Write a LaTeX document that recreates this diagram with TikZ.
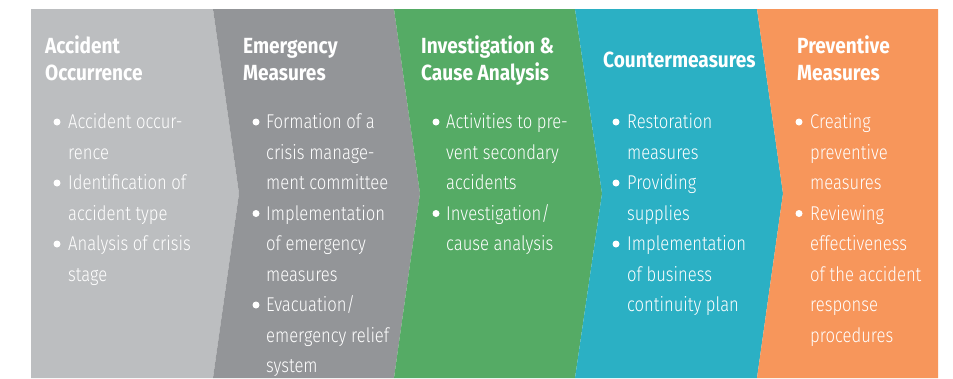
\documentclass[tikz,border=0pt]{standalone}
\usepackage{fontspec}
\IfFontExistsTF{Fira Sans Light}
  {\newfontfamily\bodyfont{Fira Sans Light}[FakeStretch=0.835]}
  {\newfontfamily\bodyfont{Fira Sans}[FakeStretch=0.835]}
\newfontfamily\titlefont{Fira Sans}[FakeStretch=0.87]
\definecolor{cA}{HTML}{BCBEC0}
\definecolor{cB}{HTML}{939598}
\definecolor{cC}{HTML}{55AB65}
\definecolor{cD}{HTML}{2BB0C4}
\definecolor{cE}{HTML}{F7965B}
\tikzset{
  ttl/.style={font=\titlefont\bfseries\fontsize{22}{27}\selectfont, text=white, anchor=base west, inner sep=0pt},
  body/.style={font=\bodyfont\fontsize{20}{30.5}\selectfont, text=white, anchor=base west, inner sep=0pt},
  bdot/.style={circle, fill=white, minimum size=7bp, inner sep=0pt},
}
\newcommand\bl[4]{\node[body] (#1) at (#2,#3) {#4};}
\newcommand\bd[3]{\node[bdot] (#1) at (#2,#3-6.5) {};}
\begin{document}
\begin{tikzpicture}[x=1bp,y=-1bp]
\useasboundingbox (0,0) rectangle (953,378);
\fill[white] (0,0) rectangle (953,378);
% panels
\fill[cA] (31,9) -- (213,9) -- (239,193.5) -- (213,378) -- (31,378) -- cycle;
\fill[cB] (213,9) -- (394,9) -- (420,193.5) -- (394,378) -- (213,378) -- (239,193.5) -- cycle;
\fill[cC] (394,9) -- (575,9) -- (602,193.5) -- (575,378) -- (394,378) -- (420,193.5) -- cycle;
\fill[cD] (575,9) -- (757,9) -- (783,193.5) -- (757,378) -- (575,378) -- (602,193.5) -- cycle;
\fill[cE] (757,9) -- (938,9) -- (938,378) -- (757,378) -- (783,193.5) -- cycle;
% titles
\node[ttl] (t1a) at (45,53.5) {Accident};
\node[ttl] (t1b) at (45,80.5) {Occurrence};
\node[ttl] (t2a) at (243,53.5) {Emergency};
\node[ttl] (t2b) at (243,80.5) {Measures};
\node[ttl] (t3a) at (421,53.5) {Investigation \&};
\node[ttl] (t3b) at (421,80.5) {Cause Analysis};
\node[ttl] (t4a) at (603,67) {Countermeasures};
\node[ttl] (t5a) at (797,53.5) {Preventive};
\node[ttl] (t5b) at (797,80.5) {Measures};
% panel 1
\bd{d1a}{57}{128.5}\bl{b1a}{68}{128.5}{Accident occur-}
\bl{b1b}{68}{159}{rence}
\bd{d1c}{57}{189.5}\bl{b1c}{68}{189.5}{Identification of}
\bl{b1d}{68}{220}{accident type}
\bd{d1e}{57}{250.5}\bl{b1e}{68}{250.5}{Analysis of crisis}
\bl{b1f}{68}{281}{stage}
% panel 2
\bd{d2a}{256}{128.5}\bl{b2a}{266}{128.5}{Formation of a}
\bl{b2b}{266}{159}{crisis manage-}
\bl{b2c}{266}{189.5}{ment committee}
\bd{d2d}{256}{220}\bl{b2d}{266}{220}{Implementation}
\bl{b2e}{266}{250.5}{of emergency}
\bl{b2f}{266}{281}{measures}
\bd{d2g}{256}{311.5}\bl{b2g}{266}{311.5}{Evacuation/}
\bl{b2h}{266}{342}{emergency relief}
\bl{b2i}{266}{372.5}{system}
% panel 3
\bd{d3a}{436}{128.5}\bl{b3a}{446}{128.5}{Activities to pre-}
\bl{b3b}{446}{159}{vent secondary}
\bl{b3c}{446}{189.5}{accidents}
\bd{d3d}{436}{220}\bl{b3d}{446}{220}{Investigation/}
\bl{b3e}{446}{250.5}{cause analysis}
% panel 4
\bd{d4a}{616}{128.5}\bl{b4a}{627}{128.5}{Restoration}
\bl{b4b}{627}{159}{measures}
\bd{d4c}{616}{189.5}\bl{b4c}{627}{189.5}{Providing}
\bl{b4d}{627}{220}{supplies}
\bd{d4e}{616}{250.5}\bl{b4e}{627}{250.5}{Implementation}
\bl{b4f}{627}{281}{of business}
\bl{b4g}{627}{311.5}{continuity plan}
% panel 5
\bd{d5a}{799}{128.5}\bl{b5a}{810}{128.5}{Creating}
\bl{b5b}{810}{159}{preventive}
\bl{b5c}{810}{189.5}{measures}
\bd{d5d}{799}{220}\bl{b5d}{810}{220}{Reviewing}
\bl{b5e}{810}{250.5}{effectiveness}
\bl{b5f}{810}{281}{of the accident}
\bl{b5g}{810}{311.5}{response}
\bl{b5h}{810}{342}{procedures}
\end{tikzpicture}
\end{document}
